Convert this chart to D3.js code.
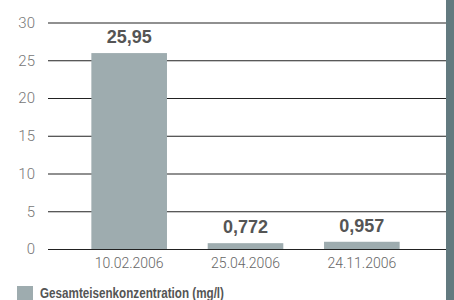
<!DOCTYPE html>
<html>
<head>
<meta charset="utf-8">
<script src="https://cdn.jsdelivr.net/npm/d3@7"></script>
<style>
  body { margin: 0; background: #fff; }
</style>
</head>
<body>
<svg width="454" height="300"></svg>
<script>
// data

const dates = ["10.02.2006", "25.04.2006", "24.11.2006"];
const values = [25.95, 0.772, 0.957];
const valueLabels = ["25,95", "0,772", "0,957"];
const yTicks = [0, 5, 10, 15, 20, 25, 30];
const legendLabel = "Gesamteisenkonzentration (mg/l)";

const svg = d3.select("svg");

// scales

const x = d3.scaleBand()
            .domain(dates)
            .range([71, 420])
            .paddingInner(0.35)
            .paddingOuter(0.175);

const y = d3.scaleLinear()
            .domain([0, 30])
            .range([249, 22.5]);

// right strip

svg.append("rect")
   .attr("x", 446).attr("y", 0)
   .attr("width", 8).attr("height", 300)
   .attr("fill", "#637a7f");

// grid + y labels

const yAxis = svg.append("g")
   .attr("transform", "translate(48,0)")
   .call(d3.axisLeft(y).tickValues(yTicks).tickSize(-398).tickPadding(13).tickFormat(d3.format("d")));

yAxis.select(".domain").remove();
yAxis.selectAll("line").attr("stroke", "#222").attr("stroke-width", 1.2);
yAxis.selectAll("text")
     .attr("fill", "#777")
     .attr("font-family", "Roboto, sans-serif")
     .attr("font-weight", 300)
     .attr("font-size", 15);

// bars

svg.selectAll(".bar")
   .data(values)
   .enter()
   .append("rect")
   .attr("class", "bar")
   .attr("x", (d, i) => x(dates[i]))
   .attr("y", d => y(d))
   .attr("width", x.bandwidth())
   .attr("height", d => y(0) - y(d))
   .attr("fill", "#9eacaf");

// value labels

svg.selectAll(".label")
   .data(values)
   .enter()
   .append("text")
   .attr("x", (d, i) => x(dates[i]) + x.bandwidth() / 2)
   .attr("y", d => y(d) - 10)
   .attr("text-anchor", "middle")
   .attr("font-family", "Liberation Sans, Arial, sans-serif")
   .attr("font-weight", "bold")
   .attr("font-size", 18)
   .attr("fill", "#555")
   .text((d, i) => valueLabels[i]);

// x labels

svg.append("g")
   .attr("transform", "translate(0,249)")
   .call(d3.axisBottom(x).tickSize(0).tickPadding(9))
   .call(g => g.select(".domain").remove())
   .selectAll("text")
   .attr("fill", "#666")
   .attr("font-family", "Roboto, sans-serif")
   .attr("font-weight", 300)
   .attr("font-size", 14);

// legend

svg.append("rect")
   .attr("x", 17).attr("y", 286)
   .attr("width", 16).attr("height", 14)
   .attr("fill", "#9eacaf");

svg.append("text")
   .attr("x", 40).attr("y", 298)
   .attr("font-family", "Liberation Sans, Arial, sans-serif")
   .attr("font-weight", "bold")
   .attr("font-size", 14)
   .attr("textLength", 184)
   .attr("lengthAdjust", "spacingAndGlyphs")
   .attr("fill", "#555")
   .text(legendLabel);
</script>
</body>
</html>
